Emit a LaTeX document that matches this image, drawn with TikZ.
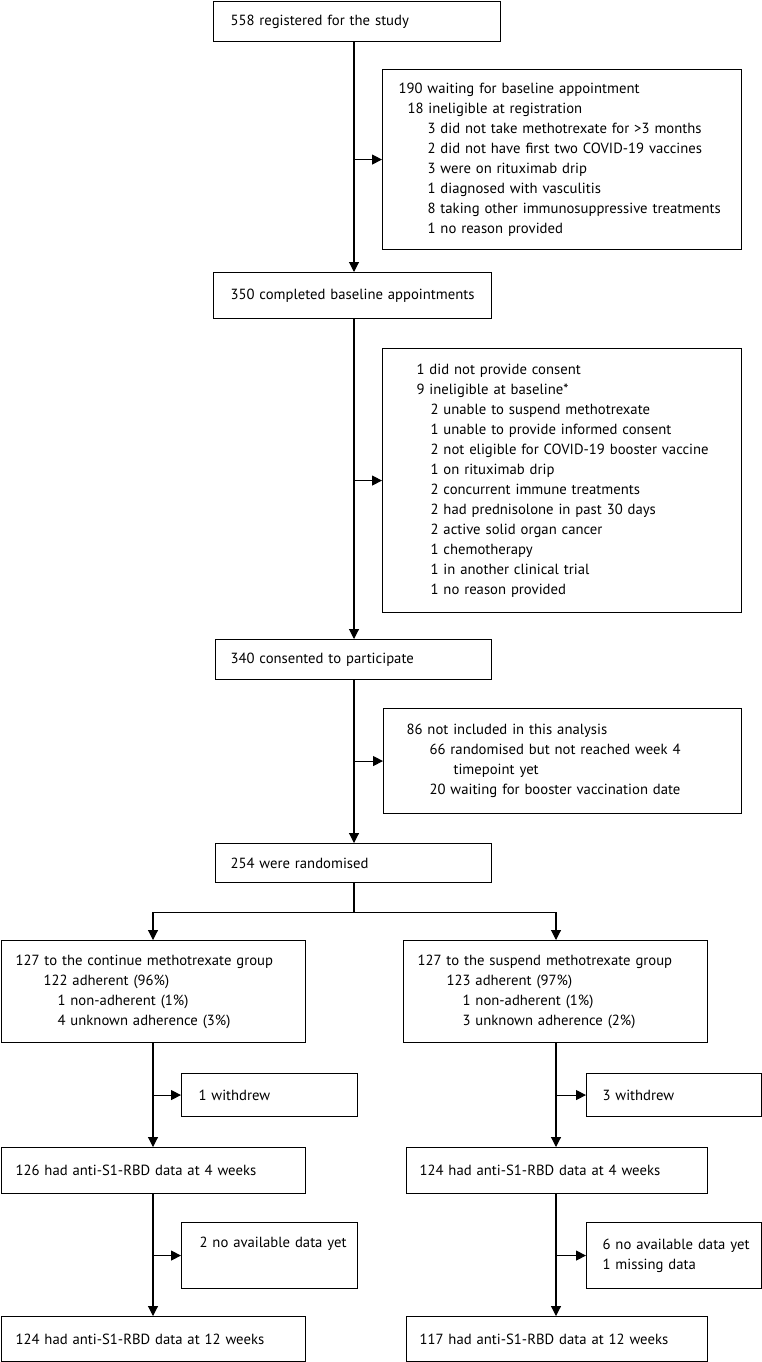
\documentclass[tikz,border=0pt]{standalone}
\usepackage{fontspec}
\setmainfont{PT Sans}
\usetikzlibrary{arrows.meta}
\tikzset{
  box/.style={draw, line width=1.1pt, rectangle, align=left, anchor=north west,
    inner xsep=16pt, inner ysep=0pt, font=\fontsize{14.7}{20}\selectfont},
  arr/.style={line width=1.1pt, -{Triangle[length=10pt,width=10pt]}},
  link/.style={line width=1.1pt},
}
\newcommand{\ind}[1]{\hspace*{#1pt}}
\begin{document}
\begin{tikzpicture}[x=1pt, y=-1pt]
\useasboundingbox (0,0) rectangle (762,1362);
%	spines of the three columns
\coordinate (spine) at (354,0);
\coordinate (colL)  at (153,0);
\coordinate (colR)  at (556,0);

%	screening
\node[box, inner xsep=17pt, text width=253pt, minimum width=287pt, minimum height=40pt] (reg) at (213,1) {558 registered for the study};
\node[box, inner xsep=12pt, text width=335pt, minimum width=359pt, minimum height=180pt] (wait) at (382,69) {%
\ind{4}190 waiting for baseline appointment\\
\ind{13}18 ineligible at registration\\
\ind{33}3 did not take methotrexate for >3 months\\
\ind{33}2 did not have first two COVID-19 vaccines\\
\ind{33}3 were on rituximab drip\\
\ind{33}1 diagnosed with vasculitis\\
\ind{33}8 taking other immunosuppressive treatments\\
\ind{33}1 no reason provided};
\node[box, inner xsep=8pt, text width=262pt, minimum width=278pt, minimum height=46pt] (base) at (213,272) {\ind{9}350 completed baseline appointments};
\node[box, inner xsep=12pt, text width=335pt, minimum width=359pt, minimum height=264pt] (inel) at (382,348) {%
\ind{22}1 did not provide consent\\
\ind{22}9 ineligible at baseline*\\
\ind{36}2 unable to suspend methotrexate\\
\ind{36}1 unable to provide informed consent\\
\ind{36}2 not eligible for COVID-19 booster vaccine\\
\ind{36}1 on rituximab drip\\
\ind{36}2 concurrent immune treatments\\
\ind{36}2 had prednisolone in past 30 days\\
\ind{36}2 active solid organ cancer\\
\ind{36}1 chemotherapy\\
\ind{36}1 in another clinical trial\\
\ind{36}1 no reason provided};
\node[box, inner xsep=15pt, text width=246pt, minimum width=276pt, minimum height=40pt] (cons) at (215,639) {340 consented to participate};
\node[box, inner xsep=23pt, text width=312pt, minimum width=358pt, minimum height=105pt] (excl) at (383,708) {%
86 not included in this analysis\\
\ind{23}66 randomised but not reached week 4\\
\ind{47}timepoint yet\\
\ind{23}20 waiting for booster vaccination date};
\node[box, inner xsep=15pt, text width=246pt, minimum width=276pt, minimum height=39pt] (rand) at (215,843) {254 were randomised};

%	continue arm
\node[box, inner xsep=14pt, text width=276pt, minimum width=304pt, minimum height=102pt] (cont) at (1,940) {%
127 to the continue methotrexate group\\
\ind{28}122 adherent (96\%)\\
\ind{42}1 non-adherent (1\%)\\
\ind{42}4 unknown adherence (3\%)};
\node[box, inner xsep=8pt, text width=160pt, minimum width=176pt, minimum height=43pt] (wdL) at (181,1073) {\ind{9}1 withdrew};
\node[box, inner xsep=14pt, text width=276pt, minimum width=304pt, minimum height=46pt] (wk4L) at (1,1147) {126 had anti-S1-RBD data at 4 weeks};
\node[box, inner xsep=8pt, text width=160pt, minimum width=176pt, minimum height=66pt] (ndL) at (181,1222) {\ind{10}2 no available data yet\\ \strut};
\node[box, inner xsep=14pt, text width=276pt, minimum width=304pt, minimum height=45pt] (wk12L) at (1,1316) {124 had anti-S1-RBD data at 12 weeks};

%	suspend arm
\node[box, inner xsep=14pt, text width=276pt, minimum width=304pt, minimum height=102pt] (susp) at (403,940) {%
127 to the suspend methotrexate group\\
\ind{29}123 adherent (97\%)\\
\ind{45}1 non-adherent (1\%)\\
\ind{45}3 unknown adherence (2\%)};
\node[box, inner xsep=8pt, text width=159pt, minimum width=175pt, minimum height=43pt] (wdR) at (586,1073) {\ind{8}3 withdrew};
\node[box, inner xsep=13pt, text width=275pt, minimum width=301pt, minimum height=46pt] (wk4R) at (406,1147) {124 had anti-S1-RBD data at 4 weeks};
\node[box, inner xsep=8pt, text width=159pt, minimum width=175pt, minimum height=66pt] (ndR) at (586,1222) {\ind{8}6 no available data yet\\\ind{8}1 missing data};
\node[box, inner xsep=13pt, text width=275pt, minimum width=301pt, minimum height=45pt] (wk12R) at (406,1316) {117 had anti-S1-RBD data at 12 weeks};

%	connectors
\draw[arr] (reg.south -| spine) -- (base.north -| spine);
\draw[arr] (spine |- wait.west) -- (wait.west);
\draw[arr] (base.south -| spine) -- (cons.north -| spine);
\draw[arr] (spine |- inel.west) -- (inel.west);
\draw[arr] (cons.south -| spine) -- (rand.north -| spine);
\draw[arr] (spine |- excl.west) -- (excl.west);
\draw[link] (rand.south -| spine) -- ++(0,29) coordinate (split);
\draw[arr] (split) -| (cont.north -| colL);
\draw[arr] (split) -| (susp.north -| colR);

\draw[arr] (cont.south -| colL) -- (wk4L.north -| colL);
\draw[arr] (colL |- wdL.west) -- (wdL.west);
\draw[arr] (wk4L.south -| colL) -- (wk12L.north -| colL);
\draw[arr] (colL |- ndL.west) -- (ndL.west);

\draw[arr] (susp.south -| colR) -- (wk4R.north -| colR);
\draw[arr] (colR |- wdR.west) -- (wdR.west);
\draw[arr] (wk4R.south -| colR) -- (wk12R.north -| colR);
\draw[arr] (colR |- ndR.west) -- (ndR.west);
\end{tikzpicture}
\end{document}
